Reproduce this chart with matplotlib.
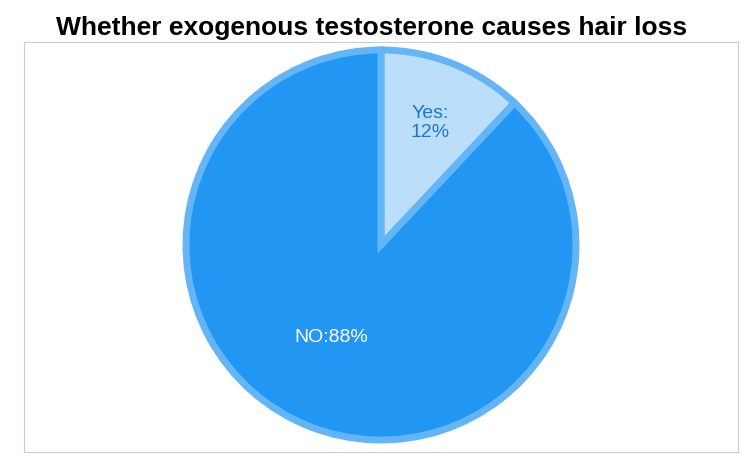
import matplotlib
matplotlib.use("Agg")
import matplotlib.pyplot as plt

labels = ["Yes", "NO"]
values = [12, 88]
colors = ["#BBDEFB", "#2196F3"]

fig = plt.figure(figsize=(7.47, 4.65), dpi=100)
box = fig.add_axes([24/747, 13/465, 714/747, 410/465])
box.set_xticks([]); box.set_yticks([])
for s in box.spines.values():
    s.set_color("#cccccc"); s.set_linewidth(0.8)

ax = fig.add_axes([(381-200)/747, (465-245-200)/465, 400/747, 400/465])
ax.pie(values, colors=colors, startangle=90, counterclock=False, radius=0.975,
       wedgeprops=dict(edgecolor="#64B5F6", linewidth=5, joinstyle="miter"))
ax.set_xlim(-1, 1); ax.set_ylim(-1, 1); ax.set_aspect("equal"); ax.axis("off")
ax.text(0.245, 0.61, f"{labels[0]}:\n{values[0]}%", color="#1976D2", fontsize=14, ha="center", va="center",
        linespacing=1.2, family="Liberation Sans")
ax.text(-0.25, -0.465, f"{labels[1]}:{values[1]}%", color="white", fontsize=14, ha="center", va="center",
        family="Liberation Sans")

fig.text(372/747, 1-28/465, "Whether exogenous testosterone causes hair loss", ha="center", va="center",
         fontsize=19, fontweight="bold", family="Liberation Sans")
fig.savefig("out.png", dpi=100)
